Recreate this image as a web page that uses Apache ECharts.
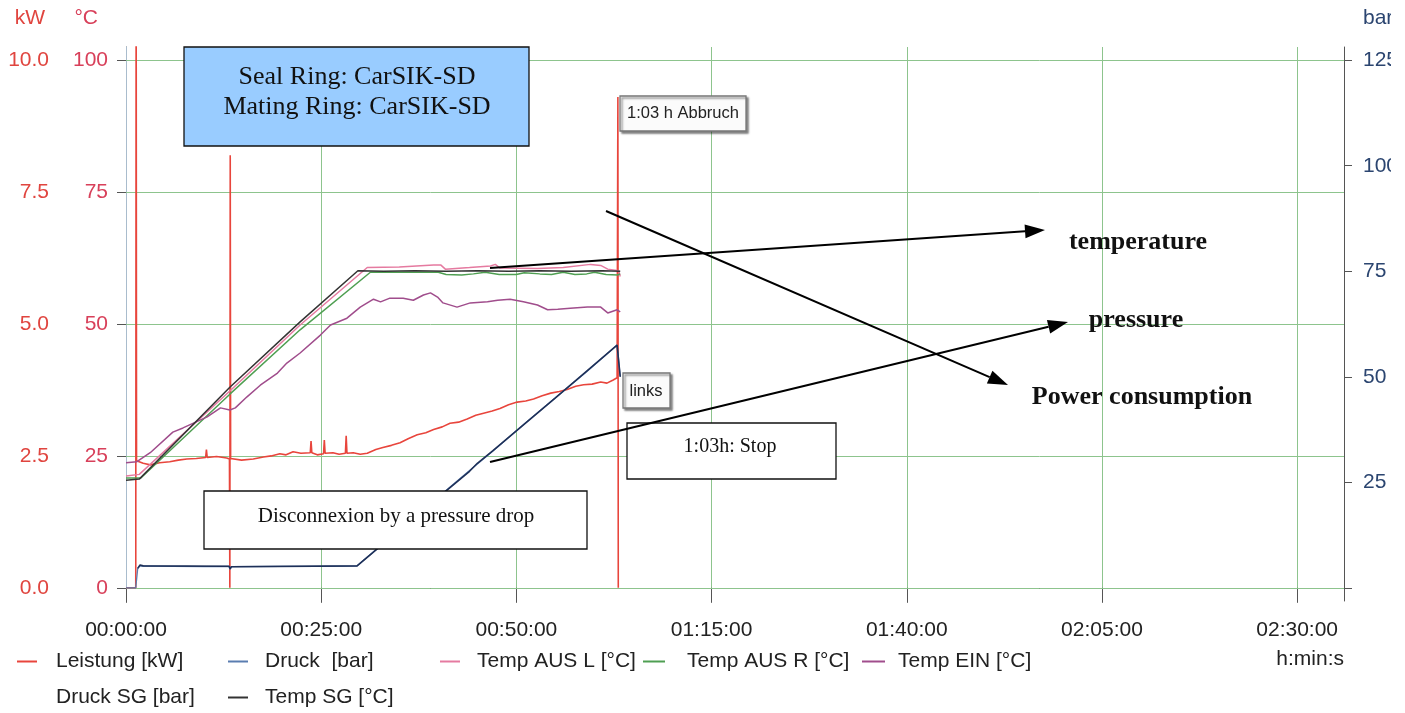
<!DOCTYPE html>
<html>
<head>
<meta charset="utf-8">
<script src="https://cdn.jsdelivr.net/npm/echarts@6/dist/echarts.min.js"></script>
<style>
  html, body { margin: 0; padding: 0; background: #fff; }
  #chart { width: 1391px; height: 713px; }
</style>
</head>
<body>
<div id="chart"></div>
<script>
// tick values (time in minutes)
const xTicks = [0, 25, 50, 75, 100, 125, 150]
const tempTicks = [0, 25, 50, 75, 100]
const kwTicks = [0, 2.5, 5, 7.5, 10]
const barTicks = [0, 25, 50, 75, 100, 125]

// [minute, kW]
const leistung = [
  [0, 0], [1.25, 0], [1.3, 12], [1.35, 2.41], [2.2, 2.36], [3.1, 2.33], [4.3, 2.37], [5.6, 2.39],
  [6.7, 2.42], [7.8, 2.44], [9.0, 2.45], [10.2, 2.47], [10.3, 2.62], [10.4, 2.47], [11.6, 2.49],
  [12.9, 2.46], [13.25, 2.44], [13.3, 0], [13.35, 8.2], [13.4, 2.45], [14.8, 2.42], [16.3, 2.44],
  [17.6, 2.48], [18.6, 2.50], [19.7, 2.54], [20.5, 2.52], [21.4, 2.58], [22.4, 2.55], [23.6, 2.56],
  [23.7, 2.78], [23.8, 2.56], [24.5, 2.52], [25.3, 2.54], [25.4, 2.80], [25.5, 2.55], [26.5, 2.56],
  [27.3, 2.53], [28.1, 2.55], [28.2, 2.88], [28.3, 2.55], [29.1, 2.56], [30.0, 2.53], [30.9, 2.55],
  [32.0, 2.62], [32.9, 2.66], [34.0, 2.70], [35.1, 2.75], [36.2, 2.83], [37.3, 2.90], [38.4, 2.94],
  [39.4, 3.00], [40.5, 3.05], [41.5, 3.12], [42.6, 3.14], [43.7, 3.20], [44.8, 3.27], [45.8, 3.31],
  [46.9, 3.35], [47.9, 3.40], [49.0, 3.47], [50.1, 3.52], [51.2, 3.54], [52.2, 3.58], [53.3, 3.64],
  [54.4, 3.69], [55.5, 3.72], [56.5, 3.76], [57.6, 3.82], [58.6, 3.85], [59.7, 3.86], [60.8, 3.90],
  [61.6, 3.88], [62.4, 3.94], [62.9, 3.98], [63.0, 9.3], [63.05, 0]
]

// [minute, bar]
const druck = [
  [0, 0], [1.25, 0], [1.5, 4.6], [1.8, 5.2], [6, 5.1], [10, 5.0], [13.2, 5.1], [13.3, 4.4],
  [13.5, 5.0], [20, 5.1], [25, 5.1], [29.6, 5.2], [32, 9.0], [36, 15.2], [40, 21.5], [44, 27.8],
  [47, 32.4], [51, 38.8], [55, 45.0], [59, 51.2], [62.9, 57.5], [63.3, 50.0]
]
const druckSG = [
  [1.5, 4.6], [1.8, 5.4], [2.2, 5.2], [13.2, 5.1], [13.35, 4.5], [13.5, 5.0], [29.6, 5.2],
  [40, 21.4], [44, 27.6], [45, 29.5], [47, 32.5], [55, 45.0], [62.9, 57.5], [63.3, 50.0]
]

// [minute, °C]
const tempAusL = [
  [0, 21.2], [1.7, 21.5], [13.3, 37.3], [22.3, 49.8], [30.9, 60.7], [35, 60.8], [39.4, 61.2],
  [40.3, 61.2], [40.9, 60.4], [44, 60.7], [46.7, 61.0], [47.3, 61.3], [47.9, 60.6], [52.7, 60.5],
  [56, 60.7], [59.5, 61.3], [60.8, 61.1], [61.7, 60.4], [63.1, 60.1], [63.3, 59.0]
]
const tempAusR = [
  [0, 20.8], [1.9, 20.8], [13.3, 36.7], [22.3, 48.9], [31.3, 59.8], [35, 59.8], [40, 59.8],
  [41, 59.4], [43, 59.3], [44.5, 59.5], [46, 59.8], [47.8, 59.4], [50, 59.4], [51, 59.7],
  [53, 59.5], [54.5, 59.4], [56, 59.8], [57.5, 59.4], [59, 59.5], [60, 59.8], [61.5, 59.4],
  [63, 59.3], [63.3, 59.5]
]
const tempEin = [
  [0, 23.7], [1.4, 23.9], [3.1, 25.6], [6.0, 29.5], [7.3, 30.3], [10.4, 32.4], [12.1, 34.1],
  [13.3, 33.7], [14.0, 34.1], [15.5, 36.2], [17.2, 38.4], [19.4, 40.7], [20.6, 42.6], [22.3, 44.5],
  [24.9, 47.9], [26.2, 49.8], [28.3, 51.1], [30.0, 53.2], [31.7, 54.7], [32.6, 54.2], [33.8, 54.9],
  [35.5, 54.9], [36.8, 54.5], [38.1, 55.5], [39.0, 55.9], [39.9, 55.1], [40.6, 54.0], [42.4, 53.2],
  [44.1, 54.0], [46.3, 54.2], [47.6, 54.5], [49.2, 54.7], [50.9, 54.2], [52.7, 53.6], [54.0, 52.7],
  [55.3, 52.8], [56.9, 53.0], [59.1, 53.2], [60.8, 53.2], [61.7, 52.1], [62.9, 52.7], [63.3, 52.3]
]
const tempSG = [
  [0, 20.4], [1.7, 20.6], [13.3, 38.0], [22.3, 50.4], [29.7, 60.1], [33, 60.0], [37, 60.1],
  [41, 60.0], [45, 60.1], [49, 60.0], [53, 60.1], [57, 60.0], [61, 60.1], [63.3, 60.0]
]

const sans = '"Liberation Sans", Arial, sans-serif'
const serif = '"Liberation Serif", "Times New Roman", serif'
const gridGreen = '#8dc48d'

function pad (n) { return n < 10 ? '0' + n : '' + n }
function hms (m) { return pad(Math.floor(m / 60)) + ':' + pad(m % 60) + ':00' }

function line (name, data, yIdx, color, width) {
  return {
    name: name, type: 'line', data: data, yAxisIndex: yIdx,
    symbol: 'none', animation: false, z: 3,
    lineStyle: { color: color, width: width },
    itemStyle: { color: color }
  }
}

// one legend per entry so each sits where the original put it
function legendAt (name, left, top, iconW, gap, icon) {
  return {
    data: [{ name: name, icon: icon || 'rect' }], left: left, top: top, itemWidth: iconW, itemHeight: 2,
    selectedMode: false, padding: 0,
    textStyle: { fontSize: 21, color: '#222', fontFamily: sans, padding: [0, 0, 0, gap] }
  }
}

function arrow (x1, y1, x2, y2) {
  let a = Math.atan2(y2 - y1, x2 - x1)
  let len = 20, w = 7
  let bx = x2 - len * Math.cos(a), by = y2 - len * Math.sin(a)
  let px = -Math.sin(a) * w, py = Math.cos(a) * w
  return [
    { type: 'line', shape: { x1: x1, y1: y1, x2: bx, y2: by }, style: { stroke: '#000', lineWidth: 2 }, z: 20 },
    { type: 'polygon', shape: { points: [[x2, y2], [bx + px, by + py], [bx - px, by - py]] }, style: { fill: '#000' }, z: 20 }
  ]
}

function box (x, y, w, h, fill, stroke, shadow) {
  let st = { fill: fill, stroke: stroke, lineWidth: 1.3 }
  if (shadow) {
    st.shadowColor = 'rgba(0,0,0,0.45)'
    st.shadowOffsetX = 2
    st.shadowOffsetY = 2
    st.shadowBlur = 2
  }
  return { type: 'rect', shape: { x: x, y: y, width: w, height: h }, style: st, z: 20 }
}

function label (text, x, y, font, color) {
  return {
    type: 'text', z: 21,
    style: { text: text, x: x, y: y, font: font, fill: color || '#111', align: 'center', verticalAlign: 'middle', textAlign: 'center', textVerticalAlign: 'middle' }
  }
}

let myChart = echarts.init(document.getElementById('chart'))

let graphics = [
  box(184, 47, 345, 99, '#99ccff', '#111'),
  label('Seal Ring: CarSIK-SD', 357, 77, '26px ' + serif),
  label('Mating Ring: CarSIK-SD', 357, 107, '26px ' + serif),
  box(620, 96, 126, 35, '#fbfbfb', '#777', true),
  label('1:03 h Abbruch', 683, 113, '16.5px ' + sans, '#222'),
  box(623, 373, 47, 35, '#fbfbfb', '#777', true),
  label('links', 646, 391, '16.5px ' + sans, '#222'),
  box(627, 423, 209, 56, '#fff', '#111'),
  label('1:03h: Stop', 730, 447, '20px ' + serif),
  box(204, 491, 383, 58, '#fff', '#111'),
  label('Disconnexion by a pressure drop', 396, 516, '21px ' + serif),
  label('temperature', 1138, 242, 'bold 26px ' + serif),
  label('pressure', 1136, 320, 'bold 26px ' + serif),
  label('Power consumption', 1142, 397, 'bold 26px ' + serif)
].concat(
  arrow(490, 268, 1045, 230),
  arrow(490, 462, 1068, 322),
  arrow(606, 211, 1008, 385)
)

myChart.setOption({
  backgroundColor: '#fff',
  textStyle: { fontFamily: sans },
  animation: false,
  grid: { left: 126, right: 47, top: 47, bottom: 112, containLabel: false, outerBoundsMode: 'none' },
  legend: [
    legendAt('Leistung [kW]', 17, 651, 20, 14),
    legendAt('Druck  [bar]', 228, 651, 20, 12),
    legendAt('Temp AUS L [°C]', 440, 651, 20, 12),
    legendAt('Temp AUS R [°C]', 643, 651, 22, 17),
    legendAt('Temp EIN [°C]', 862, 651, 23, 8),
    legendAt('Druck SG [bar]', 17, 687, 20, 14, 'none'),
    legendAt('Temp SG [°C]', 228, 687, 20, 12)
  ],
  xAxis: [
    {
      type: 'value', position: 'bottom', min: 0, max: 156, interval: 25,
      name: 'h:min:s', nameLocation: 'end', nameGap: 0, nameMoveOverlap: false,
      nameTextStyle: { fontSize: 21, color: '#222', align: 'right', verticalAlign: 'top', padding: [61, 0, 0, 0] },
      axisLine: { show: true, lineStyle: { color: '#555', width: 1 } },
      axisTick: { show: true, length: 15, customValues: xTicks, lineStyle: { color: '#555' } },
      axisLabel: { customValues: xTicks, formatter: hms, fontSize: 21, color: '#222', margin: 19 },
      splitLine: { show: true, lineStyle: { color: gridGreen, width: 1 } }
    },
    {
      type: 'value', position: 'top', min: 0, max: 156,
      axisLine: { show: true, lineStyle: { color: '#555', width: 1 } },
      axisTick: { show: false }, axisLabel: { show: false }, splitLine: { show: false }
    }
  ],
  yAxis: [
    {
      type: 'value', position: 'left', min: -2.5, max: 102.5,
      name: '°C', nameLocation: 'end', nameGap: 29, nameMoveOverlap: false,
      nameTextStyle: { color: '#d8405a', fontSize: 21, align: 'right', verticalAlign: 'middle', padding: [0, 28, 0, 0] },
      axisLine: { show: true, lineStyle: { color: '#555' } },
      axisTick: { show: true, length: 9, customValues: tempTicks, lineStyle: { color: '#555' } },
      axisLabel: { customValues: tempTicks, color: '#d8405a', fontSize: 21, margin: 18 },
      splitLine: { show: false }
    },
    {
      type: 'value', position: 'left', offset: 71, min: -0.25, max: 10.25,
      name: 'kW', nameLocation: 'end', nameGap: 29, nameMoveOverlap: false,
      nameTextStyle: { color: '#e0453f', fontSize: 21, align: 'right', verticalAlign: 'middle', padding: [0, 81, 0, 0] },
      axisLine: { show: true, lineStyle: { color: '#a9bccd' } },
      axisTick: { show: true, inside: true, length: 5, customValues: kwTicks, lineStyle: { color: '#888' } },
      axisLabel: { customValues: kwTicks, formatter: v => v.toFixed(1), color: '#e0453f', fontSize: 21, margin: 6 },
      splitLine: { show: false }
    },
    {
      type: 'value', position: 'right', min: -3.125, max: 128.125,
      name: 'bar', nameLocation: 'end', nameGap: 29, nameMoveOverlap: false,
      nameTextStyle: { color: '#2b4570', fontSize: 21, align: 'left', verticalAlign: 'middle', padding: [0, 0, 0, 19] },
      axisLine: { show: true, lineStyle: { color: '#555' } },
      axisTick: { show: true, length: 8, customValues: barTicks, lineStyle: { color: '#555' } },
      axisLabel: { customValues: barTicks.slice(1), color: '#2b4570', fontSize: 21, margin: 19 },
      splitLine: { show: false }
    }
  ],
  graphic: graphics,
  series: [
    {
      name: 'gridlines', type: 'line', data: [], yAxisIndex: 0, silent: true, z: 1,
      markLine: {
        silent: true, symbol: 'none', animation: false, z: 1,
        label: { show: false },
        lineStyle: { color: gridGreen, width: 1, type: 'solid' },
        emphasis: { disabled: true },
        data: tempTicks.map(v => ({ yAxis: v }))
      }
    },
    line('Leistung [kW]', leistung, 1, '#e8453c', 1.6),
    line('Druck  [bar]', druck, 2, '#5a7db0', 1.3),
    line('Druck SG [bar]', druckSG, 2, '#1e3058', 1.6),
    line('Temp AUS L [°C]', tempAusL, 0, '#e57aa0', 1.5),
    line('Temp AUS R [°C]', tempAusR, 0, '#4f9f52', 1.5),
    line('Temp EIN [°C]', tempEin, 0, '#a04d8c', 1.5),
    line('Temp SG [°C]', tempSG, 0, '#333333', 1.5)
  ]
})
</script>
</body>
</html>
